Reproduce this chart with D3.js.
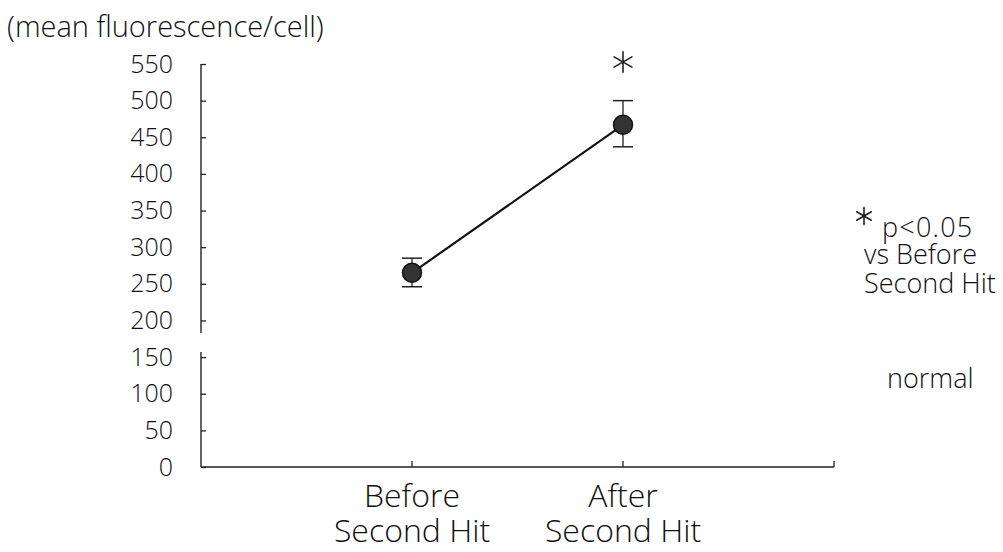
<!DOCTYPE html>
<html lang="en">
<head>
    <meta charset="UTF-8">
    <title>Fluorescence before / after second hit</title>
    <script src="https://cdn.jsdelivr.net/npm/d3@7/dist/d3.min.js"></script>
    <style>
        body { margin: 0; background: #fff; }
        text { font-family: 'Open Sans', 'Noto Sans', sans-serif; font-weight: 300; fill: #111; }
    </style>
</head>
<body>
    <script>
        //width and height
        var w = 1003;
        var h = 552;

        //data
        var categories = ['Before\nSecond Hit', 'After\nSecond Hit'];
        var means = [265, 467];
        var upper = [285, 500];
        var lower = [246, 437];
        var yTicks = [0, 50, 100, 150, 200, 250, 300, 350, 400, 450, 500, 550];

        var svg = d3.select('body')
                    .append('svg')
                    .attr('width', w)
                    .attr('height', h);

        //scales
        var y = d3.scaleLinear().domain([0, 550]).range([467, 64]);
        var x = d3.scalePoint()
                  .domain(['_l'].concat(categories, ['_r']))
                  .range([201, 834]);

        //y axis, ticks pointing inward
        var yAxis = svg.append('g')
            .attr('transform', 'translate(201,0)')
            .call(d3.axisLeft(y).tickValues(yTicks).tickSize(-5).tickPadding(28));
        yAxis.select('.domain').remove();
        yAxis.selectAll('line').attr('stroke', '#222').attr('stroke-width', 1.3);
        yAxis.selectAll('text')
            .attr('font-size', '25px')
            .attr('font-family', null)
            .attr('fill', null);

        //broken y axis line
        svg.append('line')
            .attr('x1', 201).attr('x2', 201)
            .attr('y1', y(550)).attr('y2', 333)
            .attr('stroke', '#222').attr('stroke-width', 1.4);
        svg.append('line')
            .attr('x1', 201).attr('x2', 201)
            .attr('y1', 352).attr('y2', y(0))
            .attr('stroke', '#222').attr('stroke-width', 1.4);

        //x axis
        svg.append('line')
            .attr('x1', x('_l')).attr('x2', x('_r'))
            .attr('y1', y(0)).attr('y2', y(0))
            .attr('stroke', '#222').attr('stroke-width', 1.4);
        svg.selectAll('.xtick')
            .data(categories.concat(['_r']))
            .enter()
            .append('line')
            .attr('x1', function(d) { return x(d); })
            .attr('x2', function(d) { return x(d); })
            .attr('y1', y(0))
            .attr('y2', y(0) - 6)
            .attr('stroke', '#222').attr('stroke-width', 1.3);

        //x labels, two lines each
        categories.forEach(function(c) {
            var t = svg.append('text')
                .attr('text-anchor', 'middle')
                .attr('font-size', '32px');
            c.split('\n').forEach(function(line, i) {
                t.append('tspan')
                    .attr('x', x(c))
                    .attr('y', 507 + i * 35)
                    .text(line);
            });
        });

        //y axis title
        svg.append('text')
            .attr('x', 7)
            .attr('y', 37)
            .attr('font-size', '29px')
            .text('(mean fluorescence/cell)');

        //connecting line
        var line = d3.line()
            .x(function(d, i) { return x(categories[i]); })
            .y(function(d) { return y(d); });
        svg.append('path')
            .datum(means)
            .attr('d', line)
            .attr('fill', 'none')
            .attr('stroke', '#111')
            .attr('stroke-width', 2.2);

        //error bars
        svg.selectAll('.err')
            .data(categories)
            .enter()
            .append('line')
            .attr('x1', function(d) { return x(d); })
            .attr('x2', function(d) { return x(d); })
            .attr('y1', function(d, i) { return y(upper[i]); })
            .attr('y2', function(d, i) { return y(lower[i]); })
            .attr('stroke', '#222').attr('stroke-width', 1.3);
        [upper, lower].forEach(function(arr) {
            svg.selectAll(null)
                .data(categories)
                .enter()
                .append('line')
                .attr('x1', function(d) { return x(d) - 10; })
                .attr('x2', function(d) { return x(d) + 10; })
                .attr('y1', function(d, i) { return y(arr[i]); })
                .attr('y2', function(d, i) { return y(arr[i]); })
                .attr('stroke', '#222').attr('stroke-width', 1.5);
        });

        //points
        svg.selectAll('circle')
            .data(means)
            .enter()
            .append('circle')
            .attr('cx', function(d, i) { return x(categories[i]); })
            .attr('cy', function(d) { return y(d); })
            .attr('r', 9.5)
            .attr('fill', '#333')
            .attr('stroke', '#111')
            .attr('stroke-width', 1.5);

        //significance asterisks (six-armed, like the original)
        var star = d3.symbol().type(d3.symbolAsterisk);
        svg.append('path')
            .attr('d', star.size(300)())
            .attr('transform', 'translate(' + x(categories[1]) + ',62)')
            .attr('fill', 'none')
            .attr('stroke', '#222')
            .attr('stroke-width', 1.6)
            .attr('stroke-linecap', 'round');
        svg.append('path')
            .attr('d', star.size(200)())
            .attr('transform', 'translate(864,216)')
            .attr('fill', 'none')
            .attr('stroke', '#222')
            .attr('stroke-width', 1.6)
            .attr('stroke-linecap', 'round');

        //right annotation
        svg.append('text').attr('x', 882).attr('y', 237).attr('font-size', '27px')
            .attr('letter-spacing', '1.2px').text('p<0.05');
        svg.append('text').attr('x', 864).attr('y', 264).attr('font-size', '27px').text('vs Before');
        svg.append('text').attr('x', 864).attr('y', 293).attr('font-size', '27px').text('Second Hit');
        svg.append('text').attr('x', 887).attr('y', 388).attr('font-size', '27px').text('normal');
    </script>
</body>
</html>
